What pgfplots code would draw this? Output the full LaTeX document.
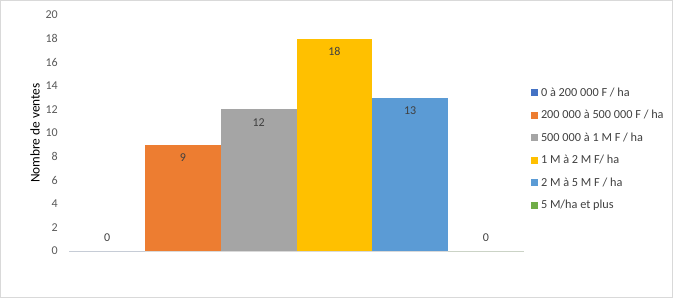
\documentclass[border=0pt]{standalone}
\usepackage{pgfplots}
\pgfplotsset{compat=1.18}
\usepackage{fontspec}
\setmainfont{Carlito}
\definecolor{c1}{HTML}{4472C4}
\definecolor{c2}{HTML}{ED7D31}
\definecolor{c3}{HTML}{A5A5A5}
\definecolor{c4}{HTML}{FFC000}
\definecolor{c5}{HTML}{5B9BD5}
\definecolor{c6}{HTML}{70AD47}
\definecolor{txt}{HTML}{404040}
\definecolor{tick}{HTML}{595959}
\definecolor{base}{HTML}{D9D9D9}
\begin{document}
\begin{tikzpicture}
\useasboundingbox (0pt,0pt) rectangle (504.75pt,223.5pt);
\draw[base,line width=0.75pt] (0.375pt,0.375pt) rectangle (504.375pt,223.125pt);
\begin{axis}[
  at={(51.9pt,35.25pt)}, anchor=south west,
  scale only axis, width=341pt, height=177pt,
  xmin=0, xmax=6, ymin=0, ymax=20,
  ytick={0,2,...,20}, xtick=\empty,
  axis lines*=left,
  x axis line style={draw=base, line width=0.75pt},
  y axis line style={draw=none},
  major tick length=0pt,
  /pgf/number format/assume math mode=true,
  yticklabel style={font=\fontsize{9}{11}\selectfont, text=tick, xshift=-5pt},
  ylabel={Nombre de ventes},
  ylabel style={font=\fontsize{10}{12}\selectfont, text=black, at={(axis description cs:-0.0754,0.5)}, anchor=center},
  ybar, bar width=1, bar shift=0pt,
  nodes near coords,
  every node near coord/.append style={font=\fontsize{9}{11}\selectfont, text=txt, anchor=center, yshift=-9.75pt},
  legend cell align=left,
  legend style={at={(rel axis cs:1.016,0.705)}, anchor=north west, draw=none, fill=none,
    font=\fontsize{9.2}{11}\selectfont, text=txt, row sep=5.0pt, inner sep=0pt},
  legend image code/.code={\fill[#1] (0pt,-2.6pt) rectangle (5.2pt,2.6pt);},
]
\addplot[fill=c1, draw=none, every node near coord/.append style={yshift=19.5pt}] coordinates {(0.5,0)};
\addlegendentry{0 à 200 000 F / ha}
\addplot[fill=c2, draw=none] coordinates {(1.5,9)};
\addlegendentry{200 000 à 500 000 F / ha}
\addplot[fill=c3, draw=none] coordinates {(2.5,12)};
\addlegendentry{500 000 à 1 M F / ha}
\addplot[fill=c4, draw=none] coordinates {(3.5,18)};
\addlegendentry{1 M à 2 M F/ ha}
\addplot[fill=c5, draw=none] coordinates {(4.5,13)};
\addlegendentry{2 M à 5 M F / ha}
\addplot[fill=c6, draw=none, every node near coord/.append style={yshift=19.5pt}] coordinates {(5.5,0)};
\addlegendentry{5 M/ha et plus}
\end{axis}
\end{tikzpicture}
\end{document}
